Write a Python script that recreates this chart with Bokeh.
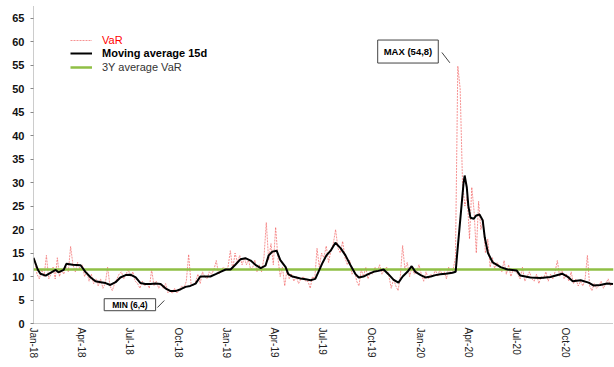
import pandas as pd
from bokeh.plotting import figure
from bokeh.models import (Legend, LegendItem, Label, FixedTicker,
                          DatetimeTickFormatter, Range1d)
from bokeh.embed import file_html
from bokeh.resources import INLINE

# ---------------- data ----------------
period_start = "2018-01-01"
period_end = "2020-12-31"
avg_3y = 11.5

# VaR, 7 readings per month
var_2018 = [
    13.5, 10.5, 9.5, 11.5, 10.0, 14.5, 9.5,     # Jan
    10.5, 12.0, 9.5, 14.0, 10.0, 11.5, 10.5,    # Feb
    12.0, 11.0, 16.4, 12.5, 11.0, 13.0, 11.5,   # Mar
    12.5, 10.0, 11.0, 9.0, 10.5, 8.5, 9.5,      # Apr
    8.0, 9.5, 7.5, 8.5, 12.0, 8.0, 7.0,         # May
    8.5, 9.5, 10.5, 11.0, 9.5, 10.5, 11.5,      # Jun
    10.0, 11.0, 9.0, 8.5, 7.5, 9.0, 8.0,        # Jul
    8.5, 7.5, 11.5, 8.0, 9.0, 7.5, 8.5,         # Aug
    7.5, 8.5, 6.5, 7.0, 6.4, 7.5, 6.5,          # Sep
    7.0, 8.0, 7.5, 9.0, 14.7, 8.5, 8.0,         # Oct
    9.0, 10.5, 8.5, 11.0, 10.0, 9.5, 11.0,      # Nov
    10.5, 11.5, 13.4, 10.5, 11.0, 12.0, 11.5,   # Dec
]
var_2019 = [
    12.0, 15.5, 11.5, 15.0, 13.0, 14.5, 12.5,   # Jan
    14.0, 12.5, 13.5, 11.5, 12.0, 13.5, 11.0,   # Feb
    12.5, 11.0, 14.0, 21.5, 13.5, 17.0, 12.5,   # Mar
    20.5, 14.0, 10.0, 12.0, 8.0, 11.5, 9.5,     # Apr
    10.5, 9.0, 10.0, 8.5, 9.5, 10.0, 9.0,       # May
    9.0, 7.5, 10.0, 9.5, 16.0, 12.0, 15.0,      # Jun
    14.0, 16.5, 13.0, 15.5, 17.0, 20.0, 16.0,   # Jul
    15.0, 17.5, 14.0, 12.5, 13.5, 10.5, 11.5,   # Aug
    9.0, 8.0, 11.5, 10.0, 12.0, 9.5, 11.0,      # Sep
    10.5, 12.0, 11.0, 12.5, 10.5, 11.5, 12.0,   # Oct
    10.0, 7.5, 9.5, 8.0, 7.0, 10.0, 16.6,       # Nov
    11.5, 13.0, 10.0, 12.0, 10.5, 11.0, 12.5,   # Dec
]
var_2020 = [
    10.5, 9.0, 11.0, 9.5, 10.5, 10.0, 11.5,     # Jan
    10.0, 11.5, 10.5, 11.0, 9.5, 12.0, 10.5,    # Feb
    11.5, 14.0, 54.8, 50.0, 30.0, 25.0, 27.0,   # Mar
    18.0, 29.0, 24.0, 15.0, 26.0, 20.0, 22.0,   # Apr
    15.0, 18.0, 12.0, 14.0, 11.5, 13.0, 12.0,   # May
    11.0, 13.4, 10.5, 12.5, 10.0, 11.5, 11.0,   # Jun
    10.5, 9.5, 12.0, 9.0, 10.0, 11.0, 9.5,      # Jul
    9.0, 10.5, 8.5, 10.0, 9.5, 11.0, 9.0,       # Aug
    10.5, 9.5, 11.0, 13.4, 10.0, 11.5, 9.5,     # Sep
    10.5, 9.0, 11.0, 8.5, 9.5, 8.0, 9.0,        # Oct
    8.0, 9.5, 14.5, 8.0, 7.0, 8.5, 7.5,         # Nov
    8.0, 9.0, 7.5, 8.5, 9.5, 8.0, 8.5,          # Dec
]

ma_dates = [
    "2018-01-01", "2018-01-09", "2018-01-14", "2018-01-24", "2018-02-02",
    "2018-02-12", "2018-02-17", "2018-02-27", "2018-03-04", "2018-03-16",
    "2018-03-31", "2018-04-09", "2018-04-19", "2018-04-28", "2018-05-08",
    "2018-05-17", "2018-05-26", "2018-06-05", "2018-06-14", "2018-06-24",
    "2018-07-03", "2018-07-13", "2018-07-22", "2018-07-31", "2018-08-10",
    "2018-08-19", "2018-08-29", "2018-09-07", "2018-09-17", "2018-09-26",
    "2018-10-06", "2018-10-15", "2018-10-24", "2018-11-03", "2018-11-12",
    "2018-11-22", "2018-12-01", "2018-12-11", "2018-12-20", "2018-12-30",
    "2019-01-08", "2019-01-17", "2019-01-27", "2019-02-05", "2019-02-15",
    "2019-02-24", "2019-03-06", "2019-03-15", "2019-03-21", "2019-03-28",
    "2019-04-05", "2019-04-12", "2019-04-22", "2019-04-27", "2019-05-05",
    "2019-05-20", "2019-05-30", "2019-06-08", "2019-06-17", "2019-06-23",
    "2019-07-01", "2019-07-08", "2019-07-16", "2019-07-25", "2019-08-04",
    "2019-08-13", "2019-08-22", "2019-09-01", "2019-09-07", "2019-09-16",
    "2019-09-25", "2019-10-05", "2019-10-14", "2019-10-24", "2019-11-02",
    "2019-11-12", "2019-11-21", "2019-11-29", "2019-12-08", "2019-12-16",
    "2019-12-23", "2020-01-02", "2020-01-11", "2020-01-21", "2020-01-30",
    "2020-02-08", "2020-02-18", "2020-03-02", "2020-03-08", "2020-03-11",
    "2020-03-15", "2020-03-19", "2020-03-23", "2020-03-25", "2020-03-29",
    "2020-04-01", "2020-04-05", "2020-04-11", "2020-04-16", "2020-04-22",
    "2020-04-28", "2020-05-02", "2020-05-08", "2020-05-17", "2020-06-01",
    "2020-06-14", "2020-07-01", "2020-07-08", "2020-07-27", "2020-08-15",
    "2020-09-03", "2020-09-25", "2020-10-05", "2020-10-15", "2020-10-30",
    "2020-11-14", "2020-11-23", "2020-12-06", "2020-12-19", "2020-12-30",
]
ma_values = [
    14.0, 11.5, 10.6, 10.2, 10.8,
    11.4, 10.9, 11.4, 12.7, 12.5,
    12.4, 11.0, 9.8, 9.0, 8.8,
    8.6, 8.2, 8.8, 9.8, 10.3,
    10.4, 9.8, 8.6, 8.4, 8.4,
    8.5, 8.4, 7.5, 6.9, 6.9,
    7.3, 7.8, 8.0, 8.5, 10.0,
    10.0, 10.0, 10.5, 11.0, 11.5,
    11.5, 12.5, 13.7, 13.9, 13.4,
    12.5, 11.8, 12.3, 14.5, 15.3,
    15.5, 13.5, 12.0, 10.5, 10.0,
    9.6, 9.4, 9.2, 9.5, 11.0,
    13.0, 14.5, 15.5, 17.2, 16.0,
    14.5, 12.5, 10.5, 9.8, 10.0,
    10.5, 11.0, 11.2, 11.5, 10.5,
    9.3, 8.7, 10.0, 11.0, 12.2,
    11.0, 10.3, 9.8, 10.0, 10.3,
    10.5, 10.6, 10.8, 11.0, 15.0,
    20.0, 25.0, 30.0, 31.5, 29.0,
    25.0, 22.5, 22.3, 23.0, 23.2,
    22.0, 18.3, 15.0, 13.0, 12.0,
    11.5, 11.3, 10.2, 9.8, 9.7,
    9.9, 10.6, 10.0, 9.0, 9.2,
    8.7, 8.1, 8.2, 8.5, 8.4,
]

tick_dates = ["2018-01-01", "2018-04-01", "2018-07-01", "2018-10-01",
              "2019-01-01", "2019-04-01", "2019-07-01", "2019-10-01",
              "2020-01-01", "2020-04-01", "2020-07-01", "2020-10-01"]
y_ticks = list(range(0, 70, 5))

# ---------------- build ----------------
var_values = var_2018 + var_2019 + var_2020
months = pd.date_range(period_start, "2020-12-01", freq="MS")
var_dates = []
for m in months:
    n = m.days_in_month
    for i in range(7):
        var_dates.append(m + pd.Timedelta(days=(i + 0.5) * n / 7))
ma_x = pd.to_datetime(ma_dates)

p = figure(width=614, height=367, x_axis_type="datetime",
           output_backend="svg", toolbar_location=None,
           x_range=Range1d(pd.Timestamp(period_start), pd.Timestamp(period_end)),
           y_range=Range1d(0, 67.7),
           min_border_left=33, min_border_right=1, min_border_top=5,
           min_border_bottom=44)
p.outline_line_color = None
p.xgrid.visible = False
p.ygrid.visible = False

r_var = p.line(var_dates, var_values, line_color="#f25c5c", line_width=0.9,
               line_alpha=0.75, line_dash="2 1")
r_avg = p.line([pd.Timestamp(period_start), pd.Timestamp(period_end)],
               [avg_3y, avg_3y], line_color="#8fbf45", line_width=2.5)
r_ma = p.line(ma_x, ma_values, line_color="black", line_width=2)

# axes
ms = [pd.Timestamp(d).value / 1e6 for d in tick_dates]
p.xaxis.ticker = FixedTicker(ticks=ms)
fmt = "%b-%y"
p.xaxis.formatter = DatetimeTickFormatter(days=fmt, months=fmt, years=fmt,
                                          hours=fmt, minutes=fmt)
p.xaxis.major_label_orientation = "vertical"
p.xaxis.major_label_text_font = "Liberation Sans"
p.xaxis.major_label_text_font_size = "10px"
p.xaxis.major_label_text_color = "#222222"
p.xaxis.major_tick_out = 0
p.xaxis.major_tick_in = 0
p.xaxis.minor_tick_out = 0
p.xaxis.minor_tick_in = 0
p.xaxis.major_label_standoff = 4
p.xaxis.axis_label_standoff = 0

p.yaxis.ticker = FixedTicker(ticks=y_ticks)
p.yaxis.major_label_text_font = "Liberation Sans"
p.yaxis.major_label_text_font_style = "bold"
p.yaxis.major_label_text_font_size = "11px"
p.yaxis.major_label_text_color = "#111111"
p.yaxis.major_tick_out = 3
p.yaxis.major_tick_in = 0
p.yaxis.minor_tick_out = 0
p.yaxis.minor_tick_in = 0
p.yaxis.major_tick_line_color = "#888888"
p.yaxis.major_label_standoff = 6
p.yaxis.axis_label_standoff = 0

for ax in (p.xaxis, p.yaxis):
    ax.axis_line_color = "#999999"
    ax.axis_line_dash = "1 1"
    ax.axis_line_width = 1

# legends (one per entry so each label can be styled)
def make_legend(label, rend, color, style, ybot):
    leg = Legend(items=[LegendItem(label=label, renderers=[rend])],
                 location=(37, ybot), border_line_color=None,
                 background_fill_alpha=0, padding=0, margin=0,
                 glyph_width=22, glyph_height=14, label_height=14,
                 label_standoff=10, label_text_font="Liberation Sans",
                 label_text_font_size="11px", label_text_color=color,
                 label_text_font_style=style)
    p.add_layout(leg)

make_legend("VaR", r_var, "#ff0000", "normal", 276)
make_legend("Moving average 15d", r_ma, "#000000", "bold", 263)
make_legend("3Y average VaR", r_avg, "#333333", "normal", 249)

# annotations
max_lbl = Label(x=pd.Timestamp("2019-12-09"), y=57.9, text="MAX (54,8)",
                text_align="center", text_baseline="middle",
                text_font="Liberation Sans", text_font_style="bold",
                text_font_size="9.5px", text_color="black",
                border_line_color="#444444", border_line_width=1,
                background_fill_color="white", padding=6)
p.add_layout(max_lbl)
min_lbl = Label(x=pd.Timestamp("2018-07-02"), y=4.0, text="MIN (6,4)",
                text_align="center", text_baseline="middle",
                text_font="Liberation Sans", text_font_style="bold",
                text_font_size="8.5px", text_color="black",
                border_line_color="#444444", border_line_width=1,
                background_fill_color="white", padding=2)
try:
    min_lbl.padding = dict(left=8, right=8, top=1, bottom=1)
except Exception:
    min_lbl.padding = 3
p.add_layout(min_lbl)
p.segment(x0=[pd.Timestamp("2020-02-11"), pd.Timestamp("2018-08-23")],
          y0=[57.7, 3.4],
          x1=[pd.Timestamp("2020-02-26"), pd.Timestamp("2018-09-05")],
          y1=[55.5, 4.9], line_color="#444444", line_width=1)

open("out.html", "w").write(file_html(p, INLINE))
